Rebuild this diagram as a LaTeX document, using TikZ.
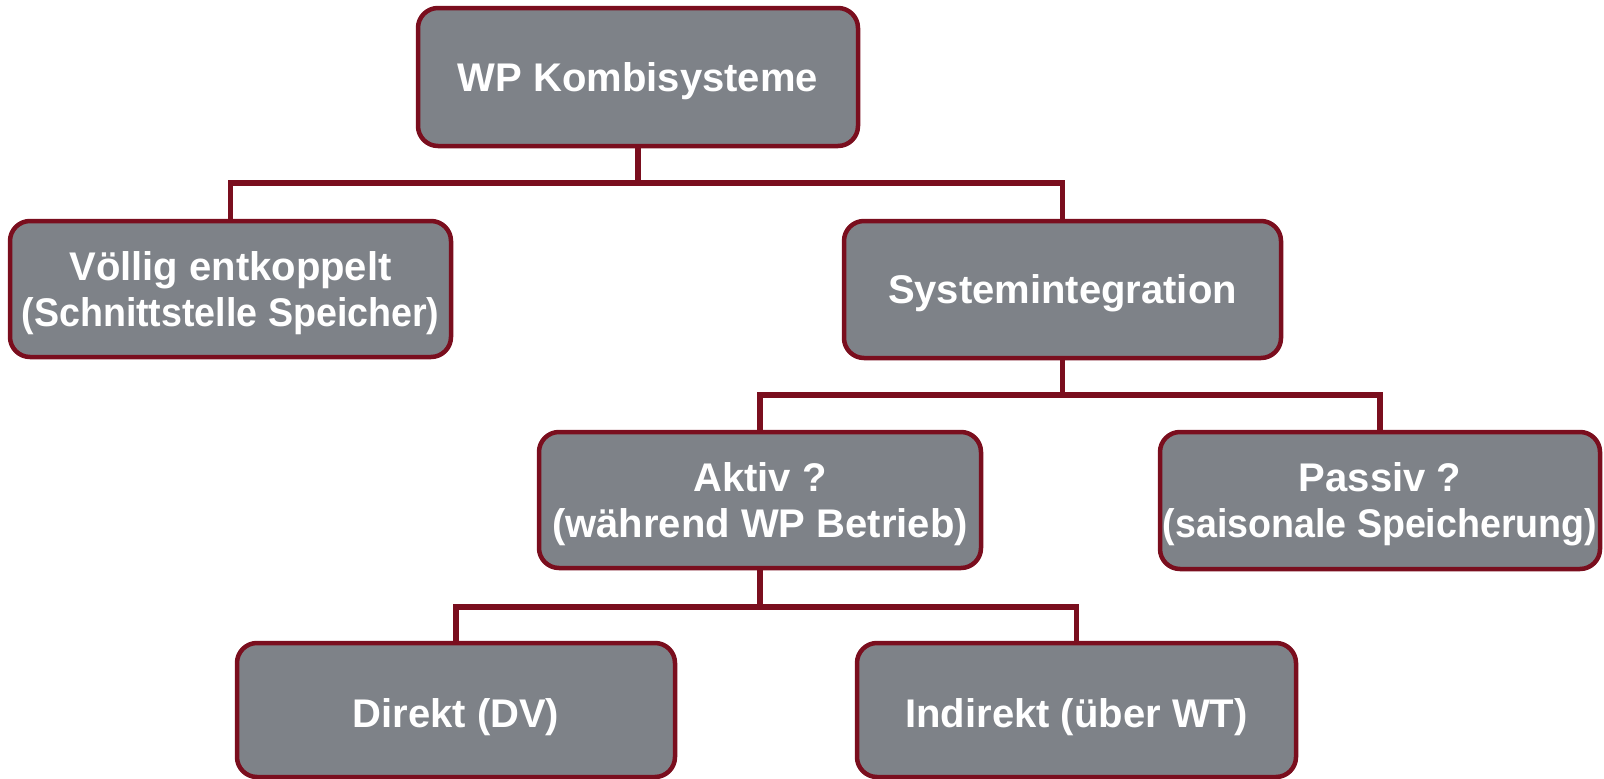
\documentclass[tikz,border=0pt]{standalone}
\usepackage{fontspec}
\setmainfont{Liberation Sans}
\definecolor{boxfill}{HTML}{7E8288}
\definecolor{boxline}{HTML}{7A0E1E}
\newcommand{\narrowline}[1]{\scalebox{0.94}[1]{#1}}
\newcommand{\lowline}[1]{\raisebox{-6pt}{#1}}
\begin{document}
\begin{tikzpicture}[x=1pt,y=-1pt,
  cbox/.style={draw=boxline, line width=4.5pt, fill=boxfill, rounded corners=20pt,
    text=white, font=\fontsize{40}{46}\selectfont\bfseries, align=center,
    inner sep=0pt, text depth=-2pt},
  conn/.style={draw=boxline, line width=5.5pt}]
\useasboundingbox (0,0) rectangle (1604,779);
\node[cbox, minimum width=440pt, minimum height=138pt] (top) at (638,77) {WP Kombisysteme};
\node[cbox, minimum width=441pt, minimum height=136pt] (left) at (230.5,289) {Völlig entkoppelt\\\narrowline{(Schnittstelle Speicher)}};
\node[cbox, minimum width=437pt, minimum height=137pt] (sys) at (1062.5,289.5) {Systemintegration};
\node[cbox, minimum width=442pt, minimum height=136pt] (akt) at (760,500) {Aktiv ?\\(während WP Betrieb)};
\node[cbox, minimum width=440pt, minimum height=137pt] (pas) at (1380,500.5) {Passiv ?\\\narrowline{(saisonale Speicherung)}};
\node[cbox, minimum width=438pt, minimum height=134pt] (dir) at (456,710) {\lowline{Direkt (DV)}};
\node[cbox, minimum width=439pt, minimum height=134pt] (ind) at (1076.5,710) {\lowline{Indirekt (über WT)}};
\coordinate (j1) at (638,183);
\coordinate (j2) at (1062.5,395);
\coordinate (j3) at (760,607);
\draw[conn] (top.south) -- (j1);
\draw[conn] (j1) -| (left.north);
\draw[conn] (j1) -| (sys.north);
\draw[conn] (sys.south) -- (j2);
\draw[conn] (j2) -| (akt.north);
\draw[conn] (j2) -| (pas.north);
\draw[conn] (akt.south) -- (j3);
\draw[conn] (j3) -| (dir.north);
\draw[conn] (j3) -| (ind.north);
\end{tikzpicture}
\end{document}
